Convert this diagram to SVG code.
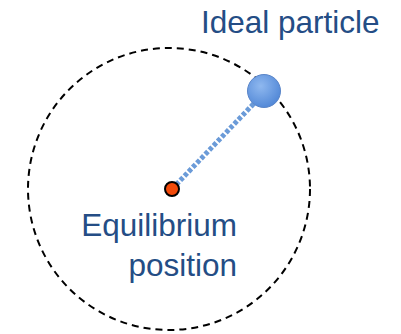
<svg xmlns="http://www.w3.org/2000/svg" width="401" height="334" viewBox="0 0 401 334">
<defs>
<radialGradient id="pg" cx="0.4" cy="0.35" r="0.7">
<stop offset="0" stop-color="#8fb8ef"/>
<stop offset="1" stop-color="#4f86d6"/>
</radialGradient>
</defs>
<style>
.lbl{font-family:"Liberation Sans",Arial,sans-serif;font-size:31.5px;fill:#244d85}
</style>
<rect width="401" height="334" fill="#fff"/>
<g id="orbit">
<circle cx="169" cy="189" r="141" fill="none" stroke="#000" stroke-width="2" stroke-dasharray="7,5"/>
</g>
<g id="connectors">
<line x1="172" y1="189" x2="262" y2="95" stroke="#6b9bd8" stroke-width="5" stroke-dasharray="4,2"/>
</g>
<g id="particle">
<circle cx="264" cy="91" r="16.5" fill="url(#pg)" stroke="#5a85c8" stroke-width="1"/>
</g>
<g id="equilibrium">
<circle cx="172" cy="189" r="7" fill="#f24a0a" stroke="#000" stroke-width="2"/>
</g>
<text class="lbl" x="201" y="33">Ideal particle</text>
<text class="lbl" x="237" y="236" text-anchor="end">Equilibrium</text>
<text class="lbl" x="237" y="276" text-anchor="end">position</text>
</svg>
